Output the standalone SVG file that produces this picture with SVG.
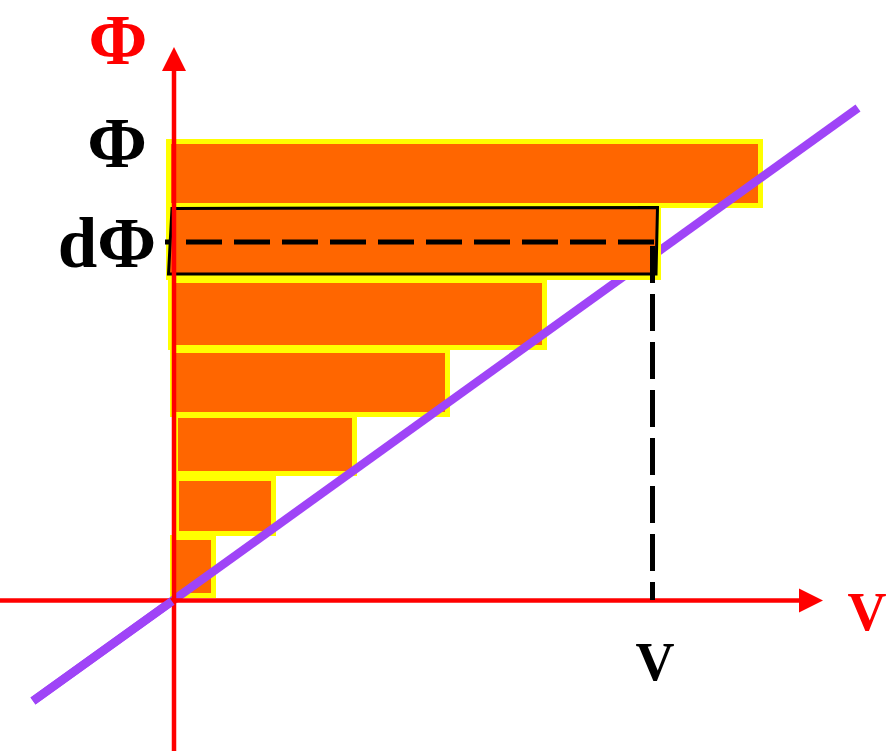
<svg xmlns="http://www.w3.org/2000/svg" width="887" height="751" viewBox="0 0 887 751">
<style>
.bar{fill:#FF6600;stroke:#FFFF00;stroke-width:5}
.axis{stroke:#FF0000;stroke-width:4.5;fill:none}
.head{fill:#FF0000}
.lbl{font-family:"Liberation Serif","Times New Roman",serif;font-weight:bold}
.dash{stroke:#000;stroke-width:5;fill:none}
.pl{stroke:#9F44F7;stroke-width:8.5}
</style>
<rect width="887" height="751" fill="#fff"/>
<g id="bars">
<rect class="bar" x="168.5" y="141.5" width="592" height="64"/>
<rect class="bar" x="170.5" y="280.5" width="374" height="67"/>
<rect class="bar" x="172.5" y="350.5" width="275" height="64"/>
<rect class="bar" x="175.5" y="415.5" width="179" height="58"/>
<rect class="bar" x="176.5" y="478.5" width="97" height="55"/>
<rect class="bar" x="172.5" y="537.5" width="41" height="58"/>
</g>
<g id="line">
<line class="pl" x1="33" y1="701" x2="858" y2="108"/>
</g>
<g id="dphi-strip">
<rect class="bar" x="168.5" y="209.5" width="490" height="68"/>
<polygon points="172,208.5 657.5,207.5 656,274 168.5,274" fill="#FF6600" stroke="#000" stroke-width="3"/>
</g>
<g id="axes">
<line class="axis" x1="174" y1="751" x2="174" y2="68"/>
<polygon class="head" points="174,47 162,71 186,71"/>
<line class="axis" x1="0" y1="600.5" x2="802" y2="600.5"/>
<polygon class="head" points="823,600.5 799,588.5 799,612.5"/>
</g>
<g id="line-over-origin">
<line class="pl" x1="33" y1="701" x2="172" y2="601.3"/>
</g>
<g id="dashes">
<line class="dash" x1="165" y1="242" x2="169" y2="242"/>
<line class="dash" x1="186" y1="242" x2="656" y2="242" stroke-dasharray="36 12"/>
<line class="dash" x1="652.5" y1="246" x2="652.5" y2="600" stroke-dasharray="37 11"/>
</g>
<g id="labels">
<text class="lbl" x="118" y="64" font-size="71" fill="#FF0000" text-anchor="middle">Φ</text>
<text class="lbl" x="117" y="167" font-size="72" fill="#000" text-anchor="middle">Φ</text>
<text class="lbl" x="107" y="267" font-size="71" fill="#000" text-anchor="middle">dΦ</text>
<text class="lbl" x="655" y="680" font-size="54" fill="#000" text-anchor="middle">V</text>
<text class="lbl" x="867" y="630" font-size="54" fill="#FF0000" text-anchor="middle">V</text>
</g>
</svg>
